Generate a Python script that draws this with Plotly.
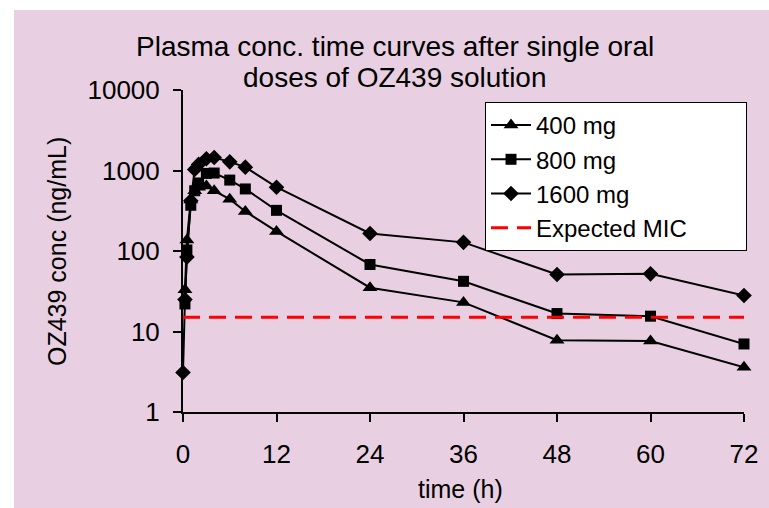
import plotly.graph_objects as go

# ---- data ----
t_400 = [0.25, 0.5, 1, 1.5, 2, 3, 4, 6, 8, 12, 24, 36, 48, 60, 72]
c_400 = [33, 137, 430, 560, 620, 640, 560, 440, 310, 175, 35, 23, 7.8, 7.6, 3.6]

t_800 = [0.25, 0.5, 1, 1.5, 2, 3, 4, 6, 8, 12, 24, 36, 48, 60, 72]
c_800 = [22, 103, 370, 560, 700, 920, 930, 760, 590, 320, 68, 42, 16.7, 15.5, 7.0]

t_1600 = [0, 0.25, 0.5, 1, 1.5, 2, 3, 4, 6, 8, 12, 24, 36, 48, 60, 72]
c_1600 = [3.1, 25, 84, 420, 1030, 1190, 1400, 1450, 1280, 1100, 620, 165, 128, 51, 52, 28]

mic_t = [0, 72]
mic_value = 15

x_ticks = [0, 12, 24, 36, 48, 60, 72]
y_ticks = [1, 10, 100, 1000, 10000]
y_ticktext = ["1", "10", "100", "1000", "10000"]

series_names = ["400 mg", "800 mg", "1600 mg", "Expected MIC"]
title_lines = ["Plasma conc. time curves after single oral", "doses of OZ439 solution"]

# ---- layout geometry (pixels) ----
W, H = 769, 508
L, R, T, B = 183, 25, 90, 96
pw, ph = W - L - R, H - T - B

def px(x):
    return (x - L) / pw

def py(y):
    return (H - B - y) / ph

FONT = "Liberation Sans, Arial, sans-serif"
BG = "#E8D0E2"
PAD = "\u00a0" * 8  # widen the legend box like the reference

fig = go.Figure()
line = dict(color="black", width=2)
fig.add_trace(go.Scatter(x=t_400, y=c_400, name=series_names[0], mode="lines+markers",
                         line=line, marker=dict(symbol="triangle-up", size=13, color="black"),
                         cliponaxis=False))
fig.add_trace(go.Scatter(x=t_800, y=c_800, name=series_names[1], mode="lines+markers",
                         line=line, marker=dict(symbol="square", size=11, color="black"),
                         cliponaxis=False))
fig.add_trace(go.Scatter(x=t_1600, y=c_1600, name=series_names[2], mode="lines+markers",
                         line=line, marker=dict(symbol="diamond", size=12, color="black"),
                         cliponaxis=False))
fig.add_trace(go.Scatter(x=mic_t, y=[mic_value] * len(mic_t), name=series_names[3] + PAD,
                         mode="lines",
                         line=dict(color="#FF0000", width=3, dash="17px,9px"),
                         cliponaxis=False))

fig.update_layout(
    width=W, height=H,
    margin=dict(l=L, r=R, t=T, b=B, pad=0),
    paper_bgcolor="white",
    plot_bgcolor=BG,
    font=dict(family=FONT, color="black", size=25),
    showlegend=True,
    legend=dict(x=px(485), y=py(102), xanchor="left", yanchor="top",
                bgcolor="white", bordercolor="black", borderwidth=1,
                font=dict(size=24, family=FONT, color="black"),
                tracegroupgap=0, itemwidth=40),
    shapes=[dict(type="rect", xref="paper", yref="paper", layer="below",
                 x0=px(14), x1=px(W + 5), y0=py(H + 5), y1=py(10),
                 fillcolor=BG, line=dict(width=0))],
    annotations=[
        dict(text=title_lines[0], xref="paper", yref="paper", x=px(395), y=py(47),
             xanchor="center", yanchor="middle", showarrow=False, font=dict(size=28)),
        dict(text=title_lines[1], xref="paper", yref="paper", x=px(395), y=py(78),
             xanchor="center", yanchor="middle", showarrow=False, font=dict(size=28)),
        dict(text="OZ439 conc (ng/mL)", xref="paper", yref="paper", x=px(57), y=py(252),
             xanchor="center", yanchor="middle", textangle=-90, showarrow=False, font=dict(size=25)),
        dict(text="time (h)", xref="paper", yref="paper", x=px(460), y=py(489),
             xanchor="center", yanchor="middle", showarrow=False, font=dict(size=25)),
    ],
)

fig.update_xaxes(range=[0, 72], tickvals=x_ticks, ticks="outside", ticklen=8, tickwidth=2,
                 tickcolor="black", showline=True, linecolor="black", linewidth=2,
                 showgrid=False, zeroline=False, ticklabelstandoff=10,
                 tickfont=dict(size=26))
fig.update_yaxes(type="log", range=[0, 4], tickvals=y_ticks, ticktext=y_ticktext,
                 ticks="outside", ticklen=8, tickwidth=2, tickcolor="black",
                 showline=True, linecolor="black", linewidth=2, showgrid=False,
                 zeroline=False, ticklabelstandoff=8, tickfont=dict(size=26))

fig.write_html("out.html", config={"displayModeBar": False},
               post_script="document.body.style.margin='0';")
